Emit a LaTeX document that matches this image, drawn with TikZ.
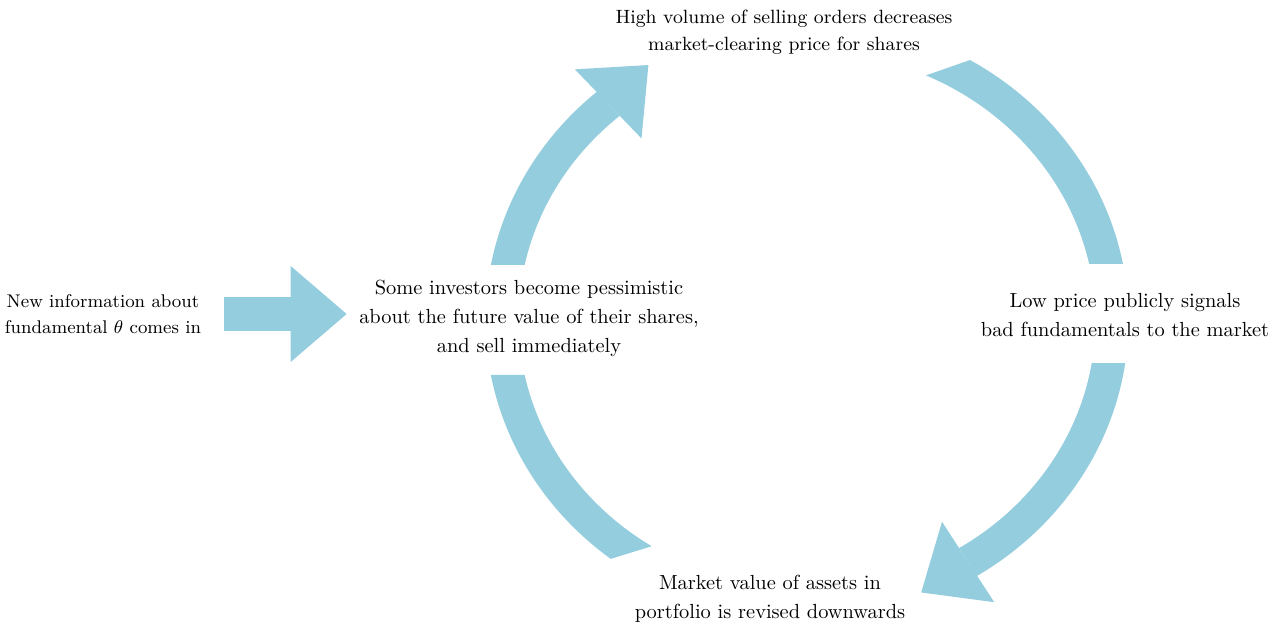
\documentclass[tikz,border=0pt]{standalone}
\usepackage{fontspec}
\usetikzlibrary{arrows.meta}

\definecolor{cycleblue}{RGB}{148,205,222}

\begin{document}
\begin{tikzpicture}[x=0.49pt,y=0.49pt,
	band/.style={draw=cycleblue,line width=16.2pt},
	fat/.style={band,-{Triangle[length=27.4pt,width=47pt,line width=0pt]}},
	lbl/.style={align=center,inner sep=0pt,font=\fontsize{10}{14.2}\selectfont}]
	\useasboundingbox (0,0) rectangle (1285,623);
	\coordinate (o) at (807,303);

	\node[lbl,font=\fontsize{9}{13}\selectfont] (news) at (103,309) {New information about\\fundamental $\theta$ comes in};
	\node[lbl] (invest) at (529,304.5) {Some investors become pessimistic\\about the future value of their shares,\\and sell immediately};
	\node[lbl,font=\fontsize{9.4}{13.4}\selectfont] (sell) at (784,590.5) {High volume of selling orders decreases\\market-clearing price for shares};
	\node[lbl] (signal) at (1125,308) {Low price publicly signals\\bad fundamentals to the market};
	\node[lbl] (revalue) at (770,24) {Market value of assets in\\portfolio is revised downwards};

	% news comes in
	\draw[fat,shorten <=11pt,shorten >=6pt] (news.east) -- (news.east -| invest.west);

	% the loop, clockwise round o; each piece clipped to its cut ends
	\begin{scope}
		\clip (0,358) rectangle (1285,623);
		\draw[fat] (o) ++(180:305 and 285) arc[start angle=180,end angle=130.7,x radius=305,y radius=285] -- ++(44:56);
	\end{scope}
	\begin{scope}
		\clip (800,503.7) -- (1300,678) -- (1300,359) -- (800,359) -- cycle;
		\draw[band] (o) ++(75:305 and 285) arc[start angle=75,end angle=0,x radius=305,y radius=285];
	\end{scope}
	\begin{scope}
		\clip (0,0) rectangle (1285,259);
		\draw[fat] (o) ++(0:305 and 285) arc[start angle=0,end angle=-58.1,x radius=305,y radius=285] -- ++(213:56);
	\end{scope}
	\begin{scope}
		\clip (400,-0.7) -- (800,122.4) -- (800,248) -- (400,248) -- cycle;
		\draw[band] (o) ++(245:305 and 285) arc[start angle=245,end angle=180,x radius=305,y radius=285];
	\end{scope}
\end{tikzpicture}
\end{document}
